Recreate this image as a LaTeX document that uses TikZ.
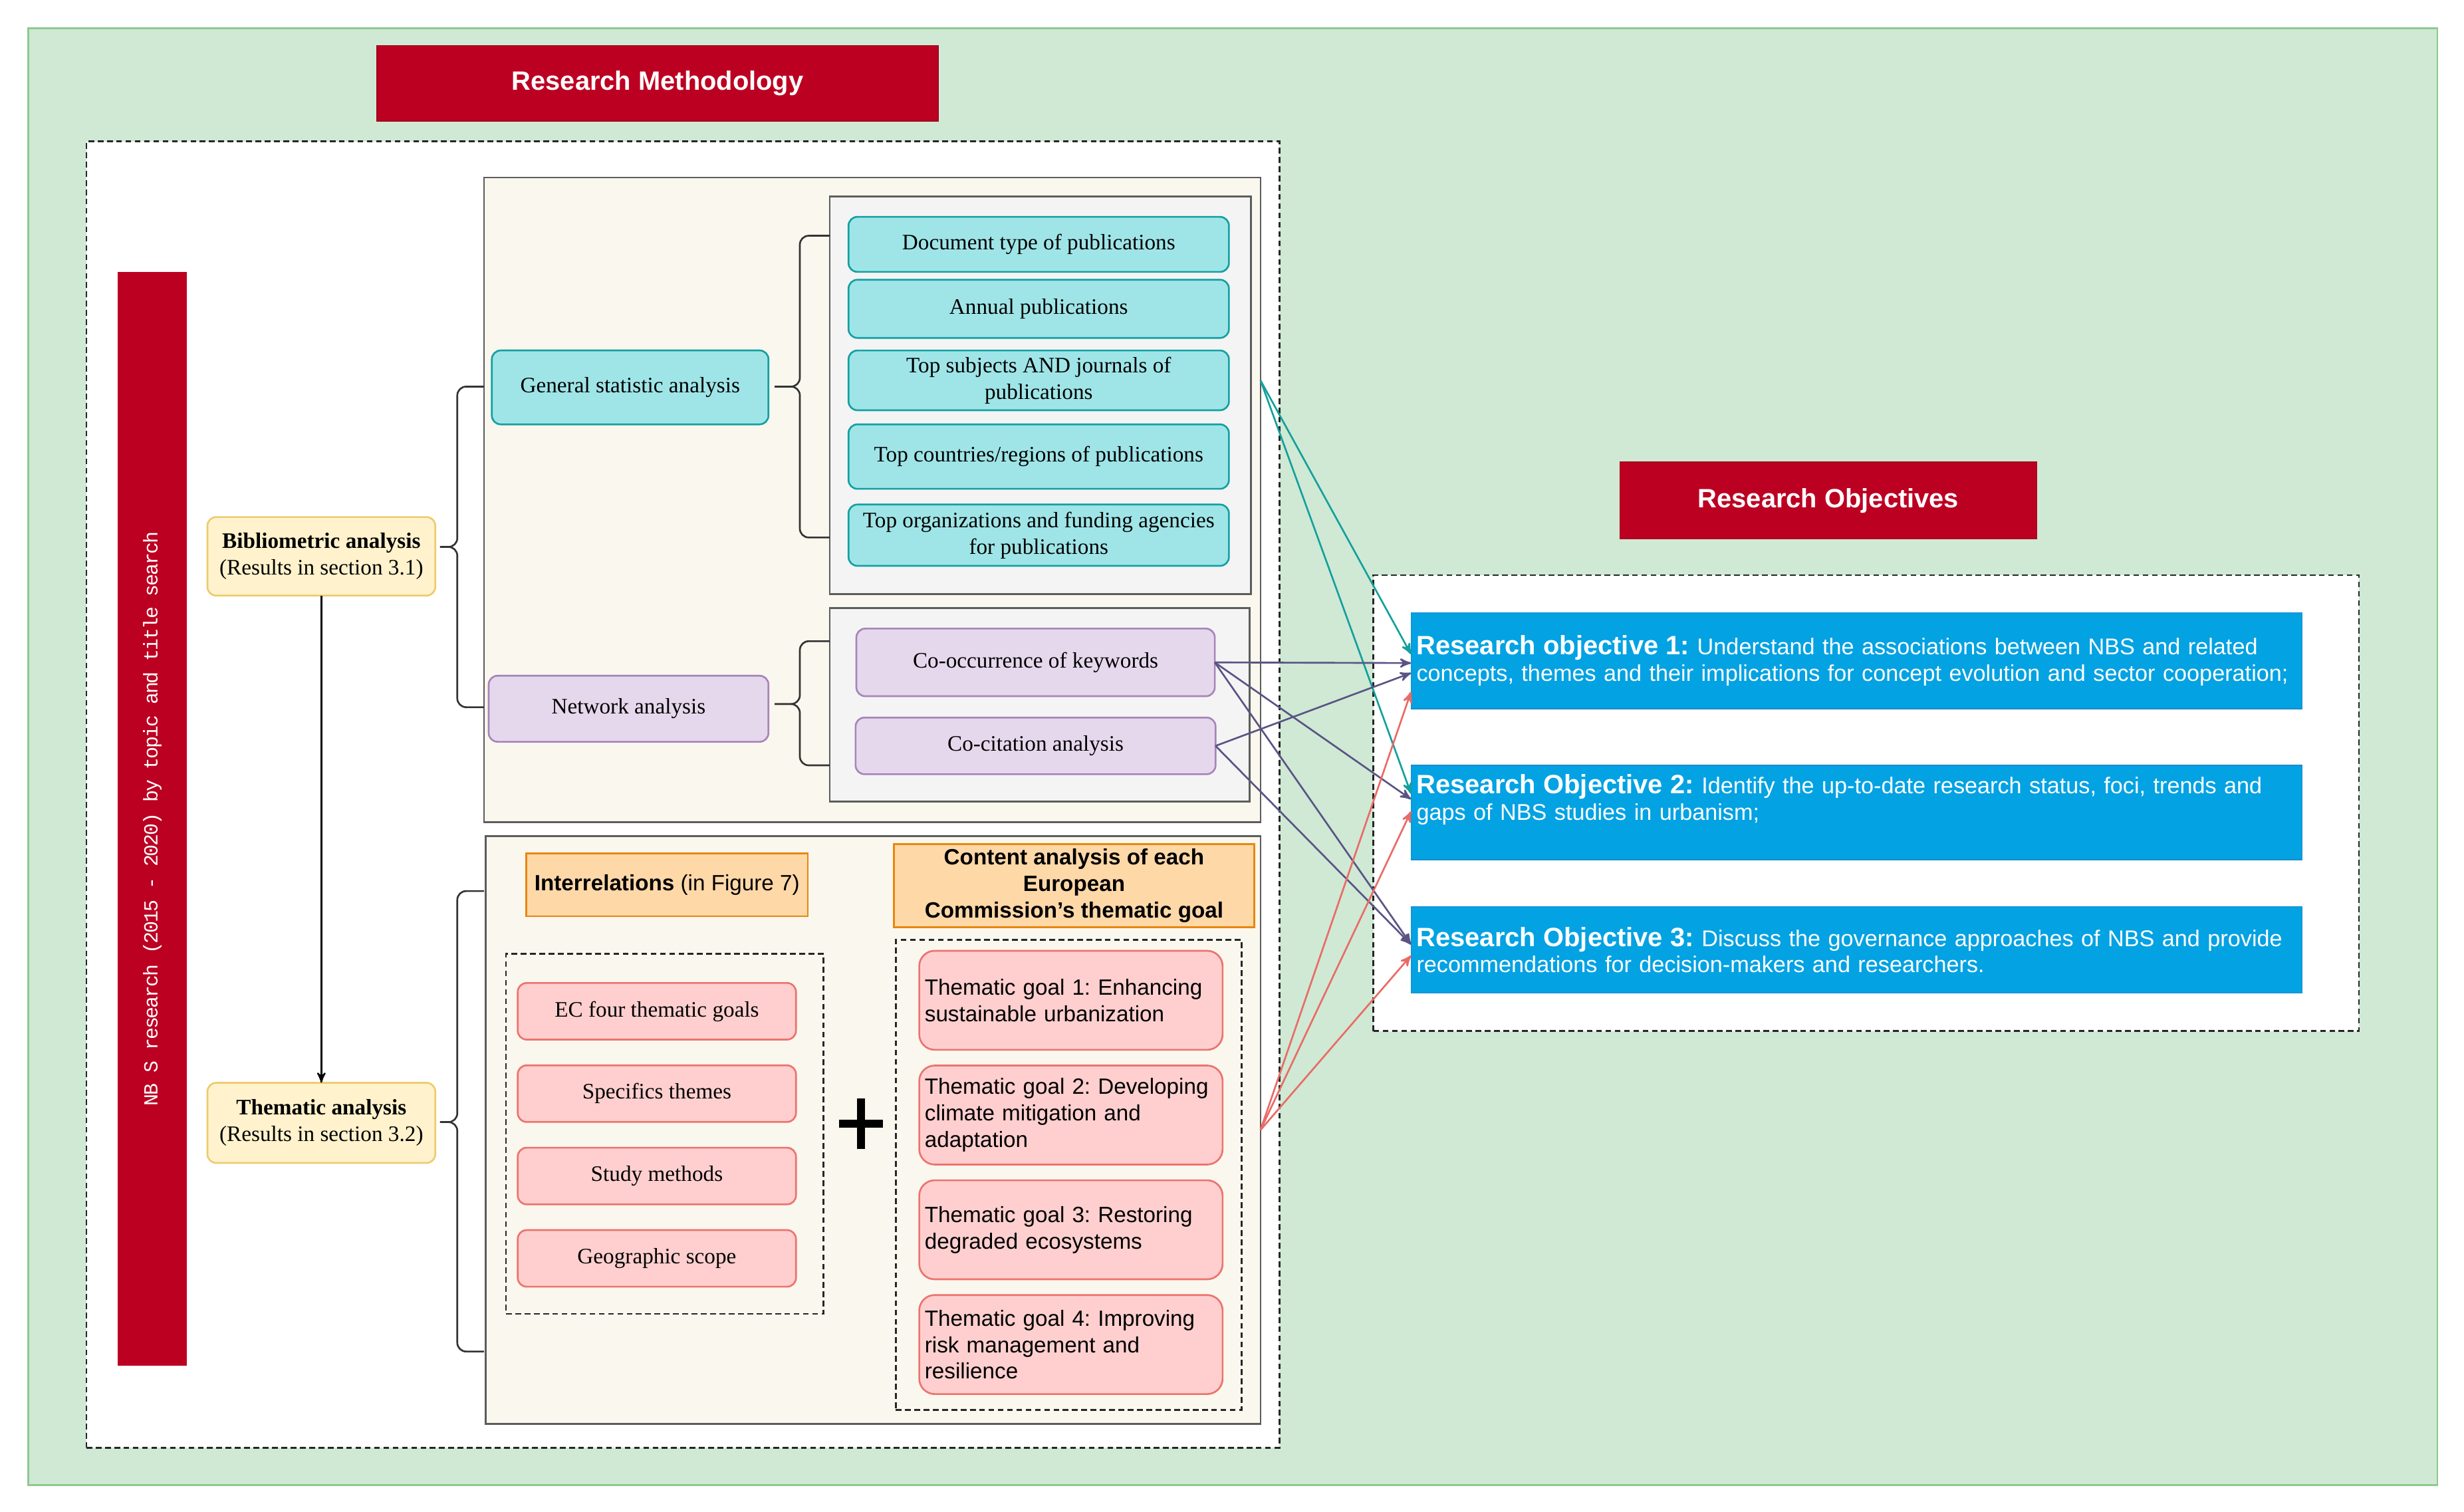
\documentclass[tikz,border=0pt]{standalone}
\usepackage{fontspec}
\setmainfont{Liberation Serif}
\setsansfont{Liberation Sans}
\setmonofont{Liberation Mono}
\newfontfamily\barfont[LetterSpace=-7]{Liberation Mono}
\usetikzlibrary{arrows}
\usetikzlibrary{positioning}
\usetikzlibrary{shapes}

\definecolor{nbsred}{HTML}{BC0022}
\definecolor{bggreen}{HTML}{CFE9D4}
\definecolor{bgline}{HTML}{8DC98F}
\definecolor{beige}{HTML}{FAF7EE}
\definecolor{boxline}{HTML}{5C5C5C}
\definecolor{greyfill}{HTML}{F4F4F4}
\definecolor{cyanfill}{HTML}{9FE5E8}
\definecolor{cyanline}{HTML}{13A0A2}
\definecolor{lilacfill}{HTML}{E6D8EC}
\definecolor{lilacline}{HTML}{A784BA}
\definecolor{yelfill}{HTML}{FFF2CC}
\definecolor{yelline}{HTML}{EDCB6E}
\definecolor{pinkfill}{HTML}{FFCFCF}
\definecolor{pinkline}{HTML}{EC736D}
\definecolor{orafill}{HTML}{FFD8A8}
\definecolor{oraline}{HTML}{E8870F}
\definecolor{objblue}{HTML}{03A2E3}
\definecolor{objline}{HTML}{1A8CCB}
\definecolor{tealarrow}{HTML}{14A09C}
\definecolor{purparrow}{HTML}{5A5485}
\definecolor{redarrow}{HTML}{EA6B66}

\begin{document}
\frenchspacing
\begin{tikzpicture}[x=0.025cm,y=-0.025cm,>=stealth',
                    every node/.style=  {font=\fontsize{10}{12}\selectfont,inner sep=2pt,outer sep=0pt},
                    red banner/.style=  {fill=nbsred,draw=nbsred!85!black,text=white,font=\sffamily\bfseries\fontsize{12}{14}\selectfont},
                    grey panel/.style=  {draw=boxline,thick,anchor=north west,inner sep=0pt},
                    dashed panel/.style={draw=black!85,thick,dash pattern=on 2.6pt off 1.6pt,anchor=north west,inner sep=0pt},
                    yellow box/.style=  {rounded corners=4pt,draw=yelline,fill=yelfill,thick,align=center,minimum width=3.625cm,minimum height=1.25cm},
                    cyan box/.style=    {rounded corners=4pt,draw=cyanline,fill=cyanfill,thick,align=center,minimum width=6.05cm,minimum height=0.95cm},
                    lilac box/.style=   {rounded corners=4pt,draw=lilacline,fill=lilacfill,thick,align=center},
                    pink box/.style=    {rounded corners=4pt,draw=pinkline,fill=pinkfill,thick,align=center,minimum width=4.425cm,minimum height=0.9cm},
                    goal box/.style=    {pink box,rounded corners=7pt,font=\sffamily\fontsize{10}{12}\selectfont,align=left,text width=4.65cm,minimum width=4.825cm,minimum height=1.575cm},
                    orange box/.style=  {draw=oraline,fill=orafill,thick,font=\sffamily\fontsize{10}{12}\selectfont,align=center},
                    blue box/.style=    {draw=objline,fill=objblue,text=white,font=\sffamily\fontsize{10.3}{12}\selectfont,align=left,text width=14.0cm,minimum width=14.175cm},
                    curly/.style=       {draw=black!80,thick,rounded corners=4pt},
                    objlink/.style=     {->,line width=0.8pt}]
      % page and green background
      \fill[white] (0,0) rectangle (1568,962);
      \useasboundingbox (0,0) rectangle (1568,962);
      \draw[draw=bgline,fill=bggreen,thick] (18,18) rectangle (1551,945);

      % methodology side
      \node[red banner,minimum width=8.925cm,minimum height=1.2cm] (meth) at (418.5,53) {Research Methodology};
      \node[dashed panel,fill=white,minimum width=18.975cm,minimum height=20.775cm] (methframe) at (55,90) {};
      \node[fill=nbsred,rotate=90,minimum width=17.4cm,minimum height=1.1cm,text=white,font=\barfont\fontsize{9}{11}\selectfont] (nbs) at (97,521) {NB S research (2015 - 2020) by topic and title search};

      \node[grey panel,fill=beige,minimum width=12.35cm,minimum height=10.25cm] (bibbox) at (308,113) {};
      \node[grey panel,fill=beige,minimum width=12.325cm,minimum height=9.35cm] (thembox) at (309,532) {};
      \node[grey panel,fill=greyfill,minimum width=6.7cm,minimum height=6.325cm] (statbox) at (528,125) {};
      \node[grey panel,fill=greyfill,minimum width=6.675cm,minimum height=3.075cm] (netbox) at (528,387) {};
      \node[dashed panel,minimum width=5.05cm,minimum height=5.725cm] (relbox) at (322,607) {};
      \node[dashed panel,minimum width=5.5cm,minimum height=7.475cm] (goalframe) at (570,598) {};

      \node[yellow box] (biblio) at (204.5,354) {\textbf{Bibliometric analysis}\\(Results in section 3.1)};
      \node[yellow box,minimum height=1.275cm] (thematic) at (204.5,714.5) {\textbf{Thematic analysis}\\(Results in section 3.2)};
      \draw[->,line width=0.7pt] (biblio) -- (thematic);

      \node[cyan box,minimum width=4.4cm,minimum height=1.175cm] (gsa) at (401,246.5) {General statistic analysis};
      \node[lilac box,minimum width=4.45cm,minimum height=1.05cm] (netw) at (400,451) {Network analysis};

      \node[cyan box,minimum height=0.875cm] (doc) at (661,155.5) {Document type of publications};
      \node[cyan box,minimum height=0.925cm,below=0.125cm of doc] (annual) {Annual publications};
      \node[cyan box,below=0.2cm of annual] (topsub) {Top subjects AND journals of\\publications};
      \node[cyan box,minimum height=1.025cm,below=0.225cm of topsub] (country) {Top countries/regions of publications};
      \node[cyan box,minimum height=0.975cm,below=0.25cm of country] (org) {Top organizations and funding agencies\\for publications};

      \node[lilac box,minimum width=5.7cm,minimum height=1.075cm] (cooc) at (659,421.5) {Co-occurrence of keywords};
      \node[lilac box,minimum width=5.725cm,minimum height=0.9cm,below=0.34cm of cooc] (cocit) {Co-citation analysis};

      \node[orange box,minimum width=4.475cm,minimum height=1.0cm] (interrel) at (424.5,563) {\textbf{Interrelations} (in Figure 7)};
      \node[orange box,font=\sffamily\bfseries\fontsize{10}{12}\selectfont,inner ysep=1pt,minimum width=5.725cm,minimum height=1.325cm] (content) at (683.5,563.5) {Content analysis of each\\European\\Commission's thematic goal};

      \node[pink box] (ecgoals) at (418,643.5) {EC four thematic goals};
      \node[pink box,below=0.41cm of ecgoals] (themes) {Specifics themes};
      \node[pink box,below=0.41cm of themes] (methods) {Study methods};
      \node[pink box,below=0.41cm of methods] (scope) {Geographic scope};

      \node[goal box] (goal1) at (681.5,636.5) {Thematic goal 1: Enhancing\\sustainable urbanization};
      \node[goal box,below=0.25cm of goal1] (goal2) {Thematic goal 2: Developing\\climate mitigation and\\adaptation};
      \node[goal box,below=0.25cm of goal2] (goal3) {Thematic goal 3: Restoring\\degraded ecosystems};
      \node[goal box,below=0.25cm of goal3] (goal4) {Thematic goal 4: Improving\\risk management and\\resilience};

      % plus sign
      \draw[line width=3.6pt] (548,699) -- (548,731) (534,715) -- (562,715);

      % braces
      \draw[curly] (308,246) -- (291,246) -- (291,348) -- (280,348);
      \draw[curly] (280,348) -- (291,348) -- (291,450) -- (308,450);
      \draw[curly] (528,150) -- (509,150) -- (509,246) -- (493,246);
      \draw[curly] (493,246) -- (509,246) -- (509,342) -- (528,342);
      \draw[curly] (528,408) -- (509,408) -- (509,448) -- (493,448);
      \draw[curly] (493,448) -- (509,448) -- (509,487) -- (528,487);
      \draw[curly] (308,567) -- (291,567) -- (291,714) -- (280,714);
      \draw[curly] (280,714) -- (291,714) -- (291,860) -- (308,860);

      % objectives side
      \node[red banner,minimum width=6.625cm,minimum height=1.225cm] (obj) at (1163.5,318.5) {Research Objectives};
      \node[dashed panel,fill=white,minimum width=15.675cm,minimum height=7.25cm] (objframe) at (874,366) {};
      \node[blue box,minimum height=1.525cm] (ro1) at (1181.5,420.5) {{\bfseries\fontsize{12}{12}\selectfont Research objective 1:} Understand the associations between NBS and related\\concepts, themes and their implications for concept evolution and sector cooperation;};
      \node[blue box,minimum height=1.5cm,text depth=0.9cm] (ro2) at (1181.5,517) {{\bfseries\fontsize{12}{12}\selectfont Research Objective 2:} Identify the up-to-date research status, foci, trends and\\gaps of NBS studies in urbanism;};
      \node[blue box,minimum height=1.375cm] (ro3) at (1181.5,604.5) {{\bfseries\fontsize{12}{12}\selectfont Research Objective 3:} Discuss the governance approaches of NBS and provide\\recommendations for decision-makers and researchers.};

      % links to the objectives
      \draw[objlink,tealarrow] (bibbox.east |- topsub) -- ([yshift=3pt]ro1.west);
      \draw[objlink,tealarrow] (bibbox.east |- topsub) -- ([yshift=8.5pt]ro2.west);
      \draw[objlink,purparrow] (cooc.east) -- ([yshift=-1pt]ro1.west);
      \draw[objlink,purparrow] (cooc.east) -- ([yshift=6pt]ro2.west);
      \draw[objlink,purparrow] (cooc.east) -- ([yshift=2.5pt]ro3.west);
      \draw[objlink,purparrow] (cocit.east) -- ([yshift=-5.5pt]ro1.west);
      \draw[objlink,purparrow] (cocit.east) -- ([yshift=2.5pt]ro3.west);
      \draw[objlink,redarrow] (thembox.east) -- ([yshift=-14pt]ro1.west);
      \draw[objlink,redarrow] (thembox.east) -- ([yshift=0.5pt]ro2.west);
      \draw[objlink,redarrow] (thembox.east) -- ([yshift=-2.5pt]ro3.west);
\end{tikzpicture}
\end{document}
